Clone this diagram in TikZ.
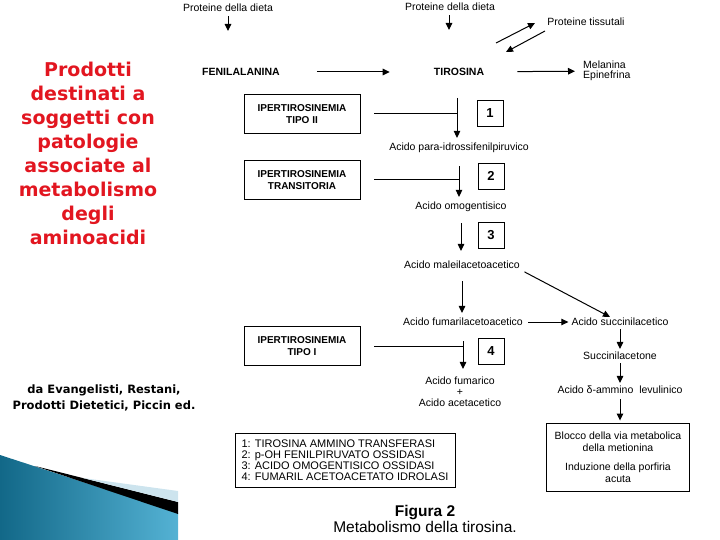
\documentclass[tikz,border=0pt]{standalone}
\usepackage{fontspec}
\setmainfont{Liberation Sans}
\newfontfamily\grassetto{DejaVu Sans}
\usetikzlibrary{arrows.meta}
\definecolor{rosso}{RGB}{226,22,32}
\definecolor{bluscuro}{RGB}{18,104,136}
\definecolor{bluchiaro}{RGB}{84,178,212}
\definecolor{azzurrino}{RGB}{205,228,238}

\begin{document}
\begin{tikzpicture}[x=1pt,y=-1pt,
        testo/.style={font=\fontsize{10.5}{11}\selectfont, inner sep=1pt},
        nome/.style={font=\fontsize{10.5}{12}\selectfont\bfseries, inner sep=1pt},
        malattia/.style={draw, line width=0.9pt, minimum width=116pt, minimum height=39pt, align=center, font=\fontsize{10}{12}\selectfont\bfseries},
        enzima/.style={draw, line width=0.9pt, minimum size=26pt, inner sep=0pt, font=\fontsize{13}{13}\selectfont\bfseries},
        riquadro/.style={draw, line width=0.9pt, font=\fontsize{10.5}{11}\selectfont},
        freccia/.style={line width=1pt, -{Triangle[length=7pt,width=6.5pt]}},
        blocco/.style={line width=1pt}]
            \useasboundingbox (0,0) rectangle (720,540);

            % decorazione in basso a sinistra
            \shade[left color=bluscuro, right color=bluchiaro] (0,455) -- (178,513) -- (178,540) -- (0,540) -- cycle;
            \fill[black] (35,466) -- (178,502) -- (178,514) -- cycle;
            \fill[azzurrino] (83,478) -- (178,491) -- (178,502) -- cycle;

            % testo a sinistra
            \node[font=\grassetto\bfseries\fontsize{19}{24}\selectfont, text=rosso, align=center] (titolo) at (88,153)
                {Prodotti\\destinati a\\soggetti con\\patologie\\associate al\\metabolismo\\degli\\aminoacidi};
            \node[font=\grassetto\bfseries\fontsize{11.5}{16}\selectfont, align=center] (fonte) at (104,398)
                {da Evangelisti, Restani,\\Prodotti Dietetici, Piccin ed.};

            % proteine
            \node[testo] (dieta1) at (228,8) {Proteine della dieta};
            \node[testo] (dieta2) at (450,7) {Proteine della dieta};
            \node[testo] (tessuti) at (586,22) {Proteine tissutali};
            \coordinate (d1) at (228,31);
            \coordinate (d2) at (449,30);
            \draw[freccia, shorten <=3pt] (dieta1.south) -- (d1);
            \draw[freccia, shorten <=3pt] (dieta2.south -| d2) -- (d2);

            % fenilalanina e tirosina
            \node[nome] (fen) at (241,72) {FENILALANINA};
            \node[nome] (tir) at (459,72) {TIROSINA};
            \node[testo, anchor=west, align=left, font=\fontsize{10.5}{10}\selectfont] (mel) at (582,71) {Melanina\\Epinefrina};
            \draw[freccia, shorten <=36pt, shorten >=43pt] (fen) -- (tir);
            \draw[freccia, shorten <=32pt, shorten >=7pt] (tir) -- (mel);
            \coordinate (su1) at (496,43);
            \coordinate (su2) at (535,23);
            \coordinate (giu1) at (545,31);
            \coordinate (giu2) at (506,52);
            \draw[freccia] (su1) -- (su2);
            \draw[freccia] (giu1) -- (giu2);

            % passo 1
            \coordinate (p1) at (457,98);
            \node[testo] (para) at (459,148) {Acido para-idrossifenilpiruvico};
            \draw[freccia, shorten >=4pt] (p1) -- (p1 |- para.north);
            \node[malattia] (tipoII) at (302,114) {IPERTIROSINEMIA\\TIPO II};
            \draw[blocco, shorten <=14pt] (tipoII.east) -- (tipoII.east -| p1);
            \node[enzima] (e1) at (490,113) {1};

            % passo 2
            \node[testo] (omog) at (461,207) {Acido omogentisico};
            \draw[freccia, shorten <=12pt, shorten >=4pt] (para) -- (para |- omog.north);
            \node[malattia] (transit) at (302,180) {IPERTIROSINEMIA\\TRANSITORIA};
            \draw[blocco, shorten <=14pt] (transit.east) -- (transit.east -| para);
            \node[enzima] (e2) at (491,176) {2};

            % passo 3
            \node[testo] (maleil) at (462,265) {Acido maleilacetoacetico};
            \draw[freccia, shorten <=10pt, shorten >=9pt] (omog) -- (omog |- maleil.north);
            \node[enzima] (e3) at (491,235) {3};

            % verso fumarilacetoacetico
            \node[testo] (fumaril) at (463,322) {Acido fumarilacetoacetico};
            \node[testo] (succinil) at (620,322) {Acido succinilacetico};
            \draw[freccia, shorten <=11pt, shorten >=4pt] (maleil) -- (maleil |- fumaril.north);
            \draw[freccia, shorten <=4pt, shorten >=2pt] (fumaril) -- (succinil);
            \draw[freccia, shorten <=4pt] (maleil.south east) -- ([xshift=-10pt]succinil.north);

            % passo 4
            \node[testo, align=center] (fumarico) at (460,392) {Acido fumarico\\+\\Acido acetacetico};
            \draw[freccia, shorten <=14pt, shorten >=7pt] (fumaril) -- (fumaril |- fumarico.north);
            \node[malattia] (tipoI) at (302,346) {IPERTIROSINEMIA\\TIPO I};
            \draw[blocco, shorten <=14pt] (tipoI.east) -- (tipoI.east -| fumaril);
            \node[enzima] (e4) at (491,351) {4};

            % ramo a destra
            \node[testo] (acetone) at (620,356) {Succinilacetone};
            \node[testo] (delta) at (620,390) {Acido δ-ammino~ levulinico};
            \node[riquadro, minimum width=143pt, minimum height=68pt, align=center, font=\fontsize{10.5}{12}\selectfont] (esiti) at (618,457)
                {Blocco della via metabolica\\della metionina\\[7pt]Induzione della porfiria\\acuta};
            \draw[freccia, shorten <=2pt, shorten >=2pt] (succinil) -- (succinil |- acetone.north);
            \draw[freccia, shorten <=2pt, shorten >=2pt] (acetone) -- (acetone |- delta.north);
            \draw[freccia, shorten <=4pt, shorten >=2pt] (delta) -- (delta |- esiti.north);

            % legenda e didascalia
            \node[riquadro, minimum width=220pt, minimum height=54pt, align=left, font=\fontsize{11}{11}\selectfont] (legenda) at (345,460)
                {1: TIROSINA AMMINO TRANSFERASI\\2: p-OH FENILPIRUVATO OSSIDASI\\3: ACIDO OMOGENTISICO OSSIDASI\\4: FUMARIL ACETOACETATO IDROLASI};
            \node[align=center, font=\fontsize{15.5}{16}\selectfont] (figura) at (425,519)
                {\textbf{Figura 2}\\Metabolismo della tirosina.};
\end{tikzpicture}
\end{document}
